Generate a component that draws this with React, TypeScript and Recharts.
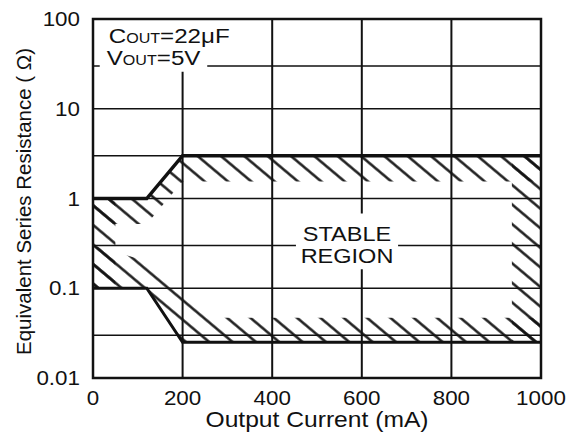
import React from 'react';
import {
  ComposedChart, Line, Area, XAxis, YAxis, CartesianGrid, ReferenceArea, Label,
} from 'recharts';

// boundary of the stable region
const currentMa = [0, 120, 200, 260, 1000];
const esrUpper = [1, 1, 3, 3, 3];
const esrLower = [0.1, 0.1, 0.025, 0.025, 0.025];
// inner edges of the hatched bands
const hatchTopInner = [0.52, 0.52, 1.55, 1.55, 1.55];
const hatchBottomInner = [0.3, 0.2, 0.085, 0.047, 0.047];

const xTicks = [0, 200, 400, 600, 800, 1000];
const yTicks = [0.01, 0.1, 1, 10, 100];
const xGrid = [200, 400, 600, 800];
const yGrid = [0.03, 0.1, 0.3, 1, 3, 10, 30];

const FONT = '"Liberation Sans", Arial, sans-serif';
const INK = '#111';
const SX = 1.12; // source picture is a little wider than its text heights

const data = currentMa.map((c, i) => ({
  current: c,
  upper: esrUpper[i],
  lower: esrLower[i],
  topBand: [hatchTopInner[i], esrUpper[i]],
  bottomBand: [esrLower[i], hatchBottomInner[i]],
}));

function XTick({ x, y, payload }: any) {
  return (
    <text transform={`translate(${x},${y}) scale(${SX},1)`} textAnchor="middle" dy="0.71em"
      fontSize={20} fontFamily={FONT} fill={INK}>
      {payload.value}
    </text>
  );
}

function YTick({ x, y, payload }: any) {
  return (
    <text transform={`translate(${x},${y}) scale(${SX},1)`} textAnchor="end" dy="0.355em"
      fontSize={20} fontFamily={FONT} fill={INK}>
      {String(payload.value)}
    </text>
  );
}

function XTitle({ viewBox }: any) {
  const cx = viewBox.x + viewBox.width / 2;
  return (
    <text transform={`translate(${cx},${viewBox.y + 49}) scale(${SX},1)`} textAnchor="middle"
      fontSize={22} fontFamily={FONT} fill={INK}>
      Output Current (mA)
    </text>
  );
}

function YTitle({ viewBox }: any) {
  const cy = viewBox.y + viewBox.height / 2 + 3;
  return (
    <text transform={`translate(31,${cy}) rotate(-90)`} textAnchor="middle"
      fontSize={20.5} fontFamily={FONT} fill={INK}>
      Equivalent Series Resistance ( Ω)
    </text>
  );
}

function CondLabel({ viewBox }: any) {
  const { x, y } = viewBox;
  return (
    <g fontFamily={FONT} fill={INK}>
      <text transform={`translate(${x + 9},${y + 24}) scale(1.15,1)`} fontSize={21}>
        C<tspan fontSize={14}>OUT</tspan>=22μF
      </text>
      <text transform={`translate(${x + 7},${y + 46}) scale(1.15,1)`} fontSize={21}>
        V<tspan fontSize={14}>OUT</tspan>=5V
      </text>
    </g>
  );
}

function StableLabel({ viewBox }: any) {
  const cx = viewBox.x + viewBox.width / 2;
  return (
    <g fontFamily={FONT} fill={INK} textAnchor="middle">
      <text transform={`translate(${cx},${viewBox.y + 27}) scale(${SX},1)`} fontSize={21}>STABLE</text>
      <text transform={`translate(${cx},${viewBox.y + 49}) scale(${SX},1)`} fontSize={21}>REGION</text>
    </g>
  );
}

export default function App() {
  return (
    <div style={{ position: 'absolute', left: 0, top: 0, background: '#fff' }}>
      <ComposedChart width={572} height={432} data={data}
        margin={{ top: 19, right: 31, left: 0, bottom: 0 }}>
        <defs>
          <pattern id="hatch" patternUnits="userSpaceOnUse" width={15} height={15}
            patternTransform="rotate(40)">
            <line x1={0} y1={7.5} x2={15} y2={7.5} stroke={INK} strokeWidth={2.4} />
          </pattern>
        </defs>
        <CartesianGrid horizontal={false} verticalValues={xGrid} stroke={INK} strokeWidth={2} />
        <CartesianGrid vertical={false} horizontalValues={yGrid} stroke={INK} strokeWidth={1.5} />
        <XAxis dataKey="current" type="number" domain={[0, 1000]} ticks={xTicks}
          axisLine={false} tickLine={false} tickMargin={7} height={54} tick={<XTick />}>
          <Label content={<XTitle />} />
        </XAxis>
        <YAxis type="number" scale="log" domain={[0.01, 100]} ticks={yTicks} allowDataOverflow
          axisLine={false} tickLine={false} tickMargin={7} width={93} tick={<YTick />}>
          <Label content={<YTitle />} />
        </YAxis>

        <Area dataKey="topBand" type="linear" fill="url(#hatch)" fillOpacity={1} stroke="none"
          isAnimationActive={false} />
        <Area dataKey="bottomBand" type="linear" fill="url(#hatch)" fillOpacity={1} stroke="none"
          isAnimationActive={false} />
        <ReferenceArea x1={0} x2={50} y1={0.1} y2={1} fill="url(#hatch)" fillOpacity={1} stroke="none" />
        <ReferenceArea x1={935} x2={1000} y1={0.025} y2={3} fill="url(#hatch)" fillOpacity={1} stroke="none" />

        <ReferenceArea x1={15} x2={255} y1={25.8} y2={100} fill="#fff" fillOpacity={1} stroke="none"
          ifOverflow="visible" label={<CondLabel />} />
        <ReferenceArea x1={453} x2={681} y1={0.163} y2={0.68} fill="#fff" fillOpacity={1} stroke="none"
          label={<StableLabel />} />

        <Line dataKey="upper" type="linear" stroke={INK} strokeWidth={3.5} dot={false}
          isAnimationActive={false} />
        <Line dataKey="lower" type="linear" stroke={INK} strokeWidth={3} dot={false}
          isAnimationActive={false} />
        <ReferenceArea x1={0} x2={1000} y1={0.01} y2={100} fill="none" stroke={INK} strokeWidth={2.5} />
      </ComposedChart>
    </div>
  );
}
